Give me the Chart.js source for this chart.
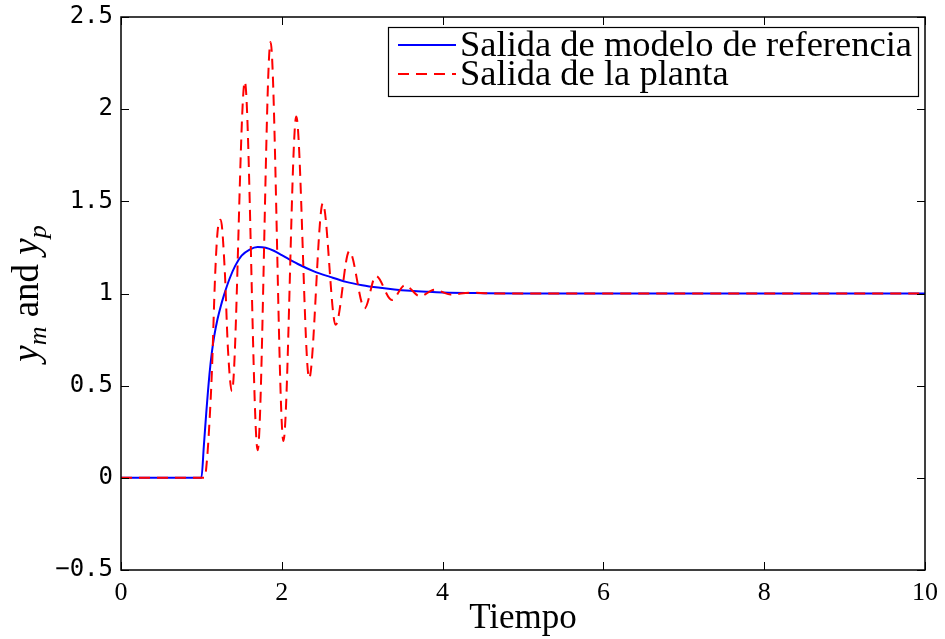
<!DOCTYPE html>
<html>
<head>
<meta charset="utf-8">
<script src="https://cdn.jsdelivr.net/npm/chart.js@4.4.1/dist/chart.umd.min.js"></script>
<style>
  html, body { margin: 0; padding: 0; background: #fff; }
  #wrap { width: 945px; height: 639px; }
</style>
</head>
<body>
<div id="wrap"><canvas id="plot" width="945" height="639"></canvas></div>
<script>
// salida del modelo de referencia
const tRef = [0, 1.0, 1.03, 1.06, 1.1, 1.13, 1.16, 1.2, 1.24, 1.28, 1.35, 1.42, 1.5, 1.6, 1.7, 1.8, 1.9, 2.0,
  2.2, 2.4, 2.6, 2.8, 3.0, 3.2, 3.4, 3.6, 3.8, 4.0, 4.5, 5, 6, 7, 8, 9, 10];
const yRef = [0, 0, 0.17, 0.35, 0.56, 0.68, 0.77, 0.86, 0.93, 0.99, 1.08, 1.15, 1.205, 1.238, 1.252, 1.248, 1.232, 1.208,
  1.16, 1.12, 1.09, 1.063, 1.045, 1.032, 1.022, 1.015, 1.01, 1.006, 1.002, 1.0, 1.0, 1.0, 1.0, 1.0, 1.0];

// salida de la planta
const tPlant = [0, 1.04, 1.07, 1.1, 1.13, 1.17, 1.2, 1.24, 1.29, 1.33, 1.38, 1.54, 1.70, 1.86, 2.02,
  2.18, 2.34, 2.51, 2.67, 2.84, 3.03, 3.17, 3.37, 3.53, 3.72, 3.9, 4.1, 4.35, 4.7, 10];
const yPlant = [0, 0, 0.1, 0.3, 0.57, 1.09, 1.33, 1.40, 1.13, 0.7, 0.47, 2.15, 0.15, 2.365, 0.20,
  1.96, 0.54, 1.49, 0.83, 1.23, 0.92, 1.095, 0.965, 1.045, 0.985, 1.02, 0.995, 1.004, 1.0, 1.0];

const xTicks = [0, 2, 4, 6, 8, 10];
const yTicks = [-0.5, 0, 0.5, 1, 1.5, 2, 2.5];
const legendLabels = ['Salida de modelo de referencia', 'Salida de la planta'];

const serif = '"Liberation Serif", "DejaVu Serif", serif';
const mono = '"DejaVu Sans Mono", "Liberation Mono", monospace';

const toPoints = (ts, ys) => ts.map((t, i) => ({ x: t, y: ys[i] }));

// marco estilo matlab: caja, marcas hacia dentro, leyenda y títulos
const framePlugin = {
  id: 'frame',
  afterDatasetsDraw(chart) {
    const { ctx, chartArea: a, scales } = chart;
    const tl = 8;
    ctx.save();
    ctx.strokeStyle = '#000';
    ctx.lineWidth = 1;
    ctx.beginPath();
    xTicks.forEach(v => {
      const px = Math.round(scales.x.getPixelForValue(v)) + 0.5;
      ctx.moveTo(px, a.bottom); ctx.lineTo(px, a.bottom - tl);
      ctx.moveTo(px, a.top); ctx.lineTo(px, a.top + tl);
    });
    yTicks.forEach(v => {
      const py = Math.round(scales.y.getPixelForValue(v)) + 0.5;
      ctx.moveTo(a.left, py); ctx.lineTo(a.left + tl, py);
      ctx.moveTo(a.right, py); ctx.lineTo(a.right - tl, py);
    });
    ctx.stroke();
    ctx.lineWidth = 1.5;
    ctx.strokeRect(a.left, a.top, a.right - a.left, a.bottom - a.top);

    // leyenda
    const box = { x: 388, y: 27, w: 530, h: 69 };
    ctx.fillStyle = '#fff';
    ctx.fillRect(box.x, box.y, box.w, box.h);
    ctx.lineWidth = 1.2;
    ctx.strokeRect(box.x + 0.5, box.y + 0.5, box.w, box.h);
    let fs = 32;
    ctx.font = fs + 'px ' + serif;
    const tw = ctx.measureText(legendLabels[0]).width;
    fs = fs * 452 / tw;
    ctx.font = fs + 'px ' + serif;
    ctx.textBaseline = 'middle';
    ctx.fillStyle = '#000';
    chart.data.datasets.forEach((ds, i) => {
      const ly = box.y + 18 + i * 29;
      ctx.strokeStyle = ds.borderColor;
      ctx.lineWidth = ds.borderWidth;
      ctx.setLineDash(ds.borderDash || []);
      ctx.beginPath();
      ctx.moveTo(398, ly); ctx.lineTo(456, ly);
      ctx.stroke();
      ctx.setLineDash([]);
      ctx.fillText(legendLabels[i], 460, ly + 1);
    });

    // título eje x
    ctx.font = '35px ' + serif;
    ctx.textAlign = 'center';
    ctx.textBaseline = 'alphabetic';
    ctx.fillText('Tiempo', (a.left + a.right) / 2, 628);

    // título eje y con subíndices
    const big = 37, small = 26;
    const parts = [
      { s: 'y', f: 'italic ' + big + 'px ' + serif, dy: 0 },
      { s: 'm', f: 'italic ' + small + 'px ' + serif, dy: 8 },
      { s: ' and ', f: big + 'px ' + serif, dy: 0 },
      { s: 'y', f: 'italic ' + big + 'px ' + serif, dy: 0 },
      { s: 'p', f: 'italic ' + small + 'px ' + serif, dy: 8 }
    ];
    let total = 0;
    parts.forEach(p => { ctx.font = p.f; p.w = ctx.measureText(p.s).width; total += p.w; });
    ctx.translate(27, (a.top + a.bottom) / 2);
    ctx.rotate(-Math.PI / 2);
    ctx.textAlign = 'left';
    let cx = -total / 2;
    parts.forEach(p => {
      ctx.font = p.f;
      ctx.fillText(p.s, cx, 11 + p.dy);
      cx += p.w;
    });
    ctx.restore();
  }
};

new Chart(document.getElementById('plot'), {
  type: 'line',
  data: {
    datasets: [
      {
        label: legendLabels[0],
        data: toPoints(tRef, yRef),
        borderColor: '#0000ff',
        borderWidth: 2,
        pointRadius: 0,
        cubicInterpolationMode: 'monotone',
        order: 2
      },
      {
        label: legendLabels[1],
        data: toPoints(tPlant, yPlant),
        borderColor: '#ff0000',
        borderWidth: 2,
        borderDash: [11, 7],
        pointRadius: 0,
        cubicInterpolationMode: 'monotone',
        order: 1
      }
    ]
  },
  options: {
    responsive: false,
    animation: false,
    layout: { padding: { top: 17, right: 20, left: 0, bottom: 0 } },
    plugins: { legend: { display: false }, tooltip: { enabled: false } },
    scales: {
      x: {
        type: 'linear', min: 0, max: 10,
        afterBuildTicks: s => { s.ticks = xTicks.map(v => ({ value: v })); },
        afterFit: s => { s.height = 69; s.paddingLeft = 0; s.paddingRight = 0; },
        grid: { display: false, drawTicks: false },
        border: { display: false },
        ticks: { color: '#000', padding: 8, font: { family: serif, size: 26 }, maxRotation: 0 }
      },
      y: {
        type: 'linear', min: -0.5, max: 2.5,
        afterBuildTicks: s => { s.ticks = yTicks.map(v => ({ value: v })); },
        afterFit: s => { s.width = 121; s.paddingTop = 0; s.paddingBottom = 0; },
        grid: { display: false, drawTicks: false },
        border: { display: false },
        ticks: {
          color: '#000', padding: 8, font: { family: mono, size: 24 },
          callback: v => (v < 0 ? '\u2212' + Math.abs(v) : String(v))
        }
      }
    }
  },
  plugins: [framePlugin]
});
</script>
</body>
</html>
